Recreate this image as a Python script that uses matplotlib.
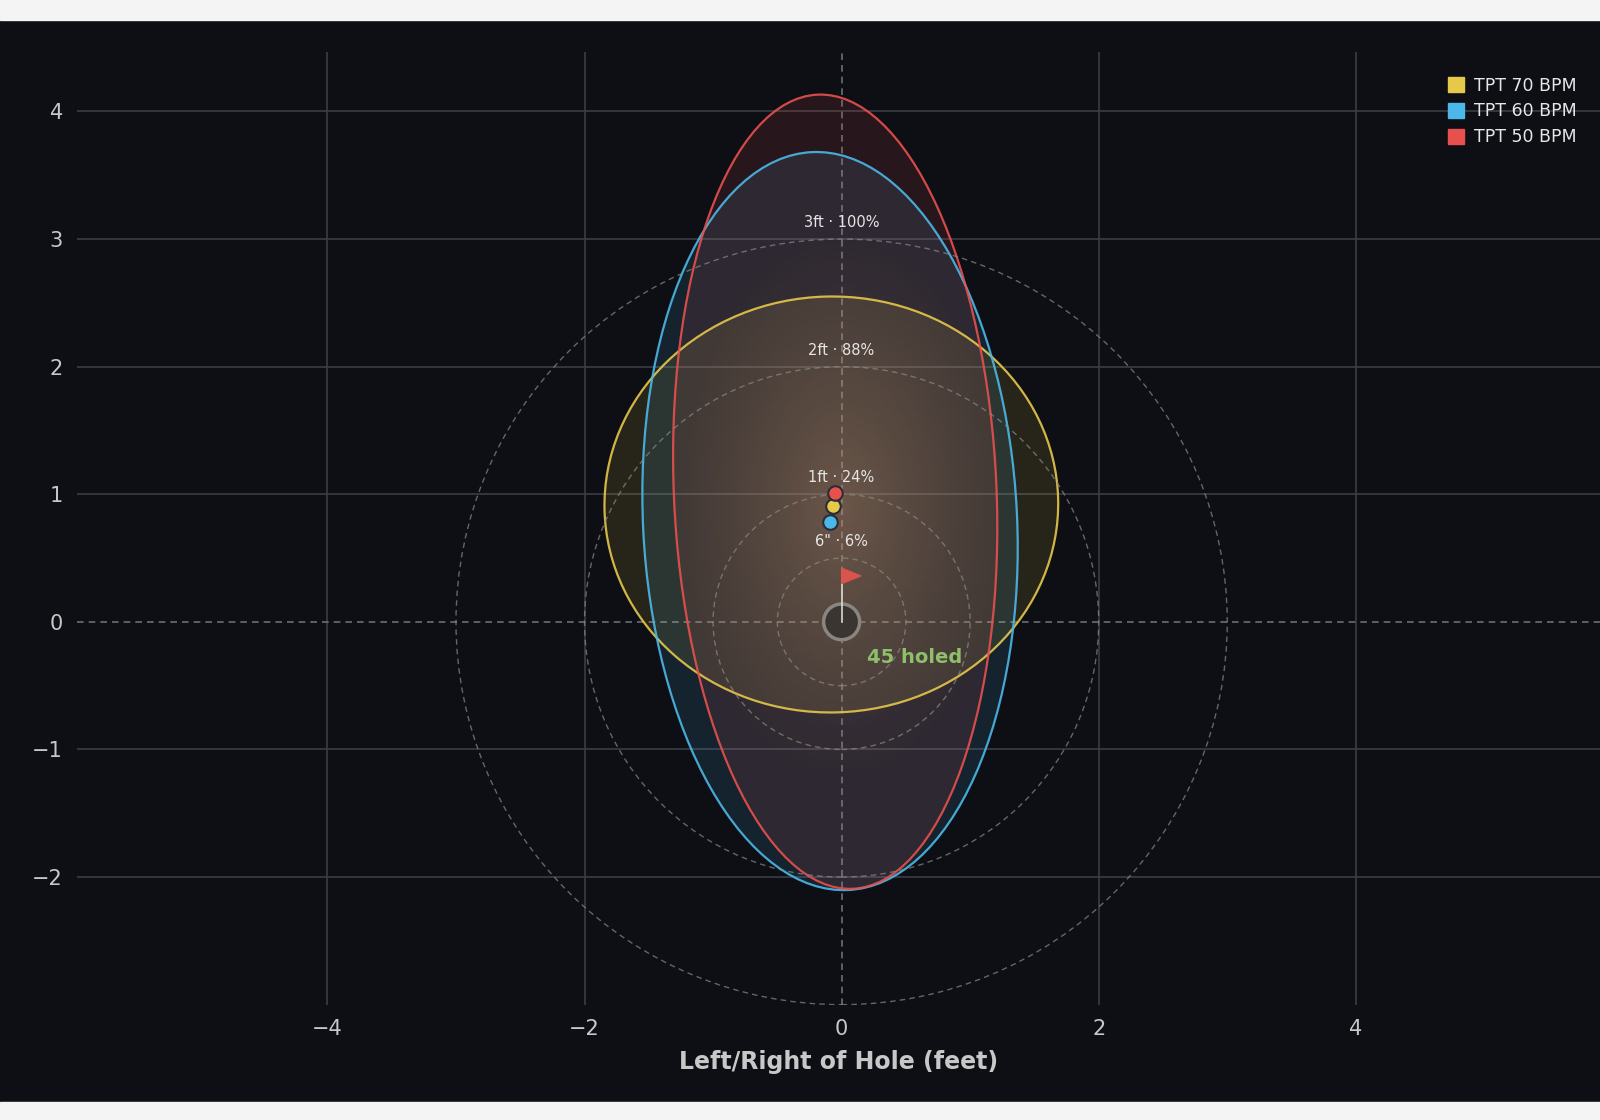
import numpy as np
import matplotlib.pyplot as plt
from matplotlib.patches import Ellipse, Circle, Rectangle, Polygon

names = ['TPT 70 BPM', 'TPT 60 BPM', 'TPT 50 BPM']
colors = ['#e6c84a', '#4cb8e8', '#e8504e']
centers = [(-0.08, 0.92), (-0.09, 0.79), (-0.05, 1.02)]
widths = [3.53, 2.91, 2.51]
heights = [3.26, 5.79, 6.23]
angles = [1.5, 2.8, 2.5]
means = [(-0.07, 0.91), (-0.09, 0.78), (-0.05, 1.01)]
ring_r = [0.5, 1, 2, 3]
ring_labels = ['6" · 6%', '1ft · 24%', '2ft · 88%', '3ft · 100%']

bg = '#0d0f14'
fig = plt.figure(figsize=(16, 11.2), dpi=100, facecolor=bg)
fig.patches.append(Rectangle((0, 0.982), 1, 0.018, transform=fig.transFigure, color='#f4f4f4'))
fig.patches.append(Rectangle((0, 0), 1, 0.016, transform=fig.transFigure, color='#f4f4f4'))
ax = fig.add_axes([0.048, 0.103, 0.952, 0.851])
ax.set_facecolor(bg)
ax.set_xlim(-5.95, 5.9)
ax.set_ylim(-3.0, 4.47)

for x in [-4, -2, 2, 4]:
    ax.axvline(x, color='#3a3d44', lw=1.2, zorder=0)
for y in [-2, -1, 1, 2, 3, 4]:
    ax.axhline(y, color='#3a3d44', lw=1.2, zorder=0)
ax.axvline(0, color='#6a6d74', lw=1.2, ls=(0, (4, 3)), zorder=0)
ax.axhline(0, color='#6a6d74', lw=1.2, ls=(0, (4, 3)), zorder=0)

# soft glow at centre
yy, xx = np.mgrid[-3:4.5:300j, -6:6:400j]
rr = np.sqrt((xx / 1.3) ** 2 + ((yy - 0.9) / 2.2) ** 2)
glow = np.clip(1 - rr, 0, 1) ** 1.2
rgba = np.zeros(glow.shape + (4,))
rgba[..., :3] = [0.75, 0.55, 0.4]
rgba[..., 3] = glow * 0.35
ax.imshow(rgba, extent=(-6, 6, -3, 4.5), origin='lower', aspect='auto', zorder=1)

for c, ctr, w, h, a in zip(colors, centers, widths, heights, angles):
    ax.add_patch(Ellipse(ctr, w, h, angle=a, facecolor=c, alpha=0.12, edgecolor='none', zorder=2))
    ax.add_patch(Ellipse(ctr, w, h, angle=a, facecolor='none', edgecolor=c, lw=1.6, alpha=0.9, zorder=3))

for r, lab in zip(ring_r, ring_labels):
    ax.add_patch(Circle((0, 0), r, fill=False, edgecolor='#8a8a8a', lw=1, ls=(0, (4, 3)), alpha=0.7, zorder=3))
    ax.text(0, r + 0.07, lab, color='#e6e6e6', fontsize=10.5, ha='center', va='bottom', zorder=6)

ax.add_patch(Circle((0, 0), 0.14, facecolor='#3a3530', edgecolor='#8a8580', lw=2.5, zorder=4))
ax.plot([0, 0], [0, 0.4], color='#d8d8d8', lw=1.2, zorder=4)
ax.add_patch(Polygon([(0.0, 0.42), (0.0, 0.3), (0.15, 0.36)], color='#d9534f', zorder=4))
ax.text(0.2, -0.32, '45 holed', color='#8fbf6a', fontsize=14, fontweight='bold', zorder=6)

for c, (mx, my) in zip(colors, means):
    ax.scatter(mx, my, s=110, color=c, edgecolor='#2a2d35', lw=1.5, zorder=7)

ax.set_xticks([-4, -2, 0, 2, 4])
ax.set_yticks([-2, -1, 0, 1, 2, 3, 4])
ax.tick_params(colors='#c8c8c8', labelsize=15, length=0, pad=10)
for s in ax.spines.values():
    s.set_visible(False)
ax.set_xlabel('Left/Right of Hole (feet)', color='#c8c8c8', fontsize=17, fontweight='bold', labelpad=8)

handles = [Rectangle((0, 0), 1, 1, color=c) for c in colors]
leg = ax.legend(handles, names, loc='upper right', frameon=False, fontsize=12.5,
                handlelength=0.9, handleheight=0.9, handletextpad=0.6, labelspacing=0.45,
                bbox_to_anchor=(0.995, 0.99))
for t in leg.get_texts():
    t.set_color('#e6e6e6')

fig.savefig('out.png', dpi=100, facecolor=bg)
